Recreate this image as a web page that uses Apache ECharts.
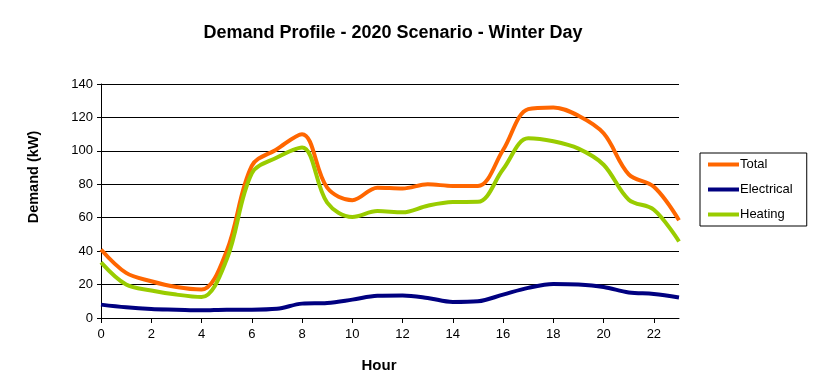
<!DOCTYPE html>
<html><head><meta charset="utf-8">
<script src="https://cdn.jsdelivr.net/npm/echarts@6/dist/echarts.min.js"></script>
<style>html,body{margin:0;padding:0;background:#fff}#c{width:813px;height:386px}</style>
</head><body><div id="c"></div>
<script>
const hours = ['0','1','2','3','4','5','6','7','8','9','10','11','12','13','14','15','16','17','18','19','20','21','22','23'];
const total = [41, 27, 22, 18.5, 17, 40, 91, 101, 110, 78, 70.5, 78, 77.5, 80, 79, 79, 100.5, 125, 126, 121, 110.5, 86, 78.5, 58.5];
const electrical = [8, 6.4, 5.4, 5, 4.6, 5, 5, 5.5, 8.6, 9, 11, 13.3, 13.5, 12, 9.6, 10, 14, 18, 20.3, 20, 18.5, 15.3, 14.4, 12.3];
const heating = [33.3, 20, 16.5, 14, 12.5, 35, 86.5, 96, 102, 69, 60.5, 64, 63.2, 67.2, 69.4, 69.5, 89, 107.5, 105.7, 101.3, 91.7, 70.8, 64.8, 45.8];
const yTicks = {min: 0, max: 140, interval: 20};

const chart = echarts.init(document.getElementById('c'), null, {renderer: 'canvas'});
const font = 'Liberation Sans, Arial, sans-serif';
chart.setOption({
  animation: false,
  backgroundColor: '#fff',
  title: {
    text: 'Demand Profile - 2020 Scenario - Winter Day',
    left: 388, top: 19, textAlign: 'center',
    textStyle: {fontFamily: font, fontWeight: 'bold', fontSize: 18, color: '#000'}
  },
  grid: {left: 101, right: 134, top: 84, bottom: 68, containLabel: false},
  legend: {
    orient: 'vertical', left: 700, top: 153,
    padding: [5, 14, 5, 8],
    borderColor: '#000', borderWidth: 1,
    itemWidth: 31, itemHeight: 4, itemGap: 12,
    icon: 'rect',
    textStyle: {fontFamily: font, fontSize: 13, color: '#000', padding: [0, 0, 0, -4]},
    data: ['Total', 'Electrical', 'Heating']
  },
  xAxis: {
    type: 'category', data: hours, boundaryGap: false,
    name: 'Hour', nameLocation: 'middle', nameGap: 40,
    nameTextStyle: {fontFamily: font, fontWeight: 'bold', fontSize: 15, color: '#000', padding: [0, 22, 0, 0]},
    axisLine: {lineStyle: {color: '#000', width: 1}},
    axisTick: {show: true, interval: 1, length: 5, lineStyle: {color: '#000'}},
    axisLabel: {interval: 1, fontFamily: font, fontSize: 13, color: '#000', margin: 10},
    splitLine: {show: false}
  },
  yAxis: {
    type: 'value', min: yTicks.min, max: yTicks.max, interval: yTicks.interval,
    name: 'Demand (kW)', nameLocation: 'middle', nameGap: 60, nameRotate: 90,
    nameTextStyle: {fontFamily: font, fontWeight: 'bold', fontSize: 14.5, color: '#000', padding: [0, 0, 0, 48]},
    axisLine: {show: true, lineStyle: {color: '#000', width: 1}},
    axisTick: {show: true, length: 4, lineStyle: {color: '#000'}},
    axisLabel: {fontFamily: font, fontSize: 13, color: '#000', margin: 8},
    splitLine: {show: true, lineStyle: {color: '#000', width: 1}}
  },
  series: [
    {name: 'Total', type: 'line', data: total, smooth: 0.35, symbol: 'none',
     lineStyle: {color: '#FF6600', width: 4}, itemStyle: {color: '#FF6600'}},
    {name: 'Electrical', type: 'line', data: electrical, smooth: 0.35, symbol: 'none',
     lineStyle: {color: '#000080', width: 4}, itemStyle: {color: '#000080'}},
    {name: 'Heating', type: 'line', data: heating, smooth: 0.35, symbol: 'none',
     lineStyle: {color: '#99CC00', width: 4}, itemStyle: {color: '#99CC00'}}
  ]
});
</script></body></html>
